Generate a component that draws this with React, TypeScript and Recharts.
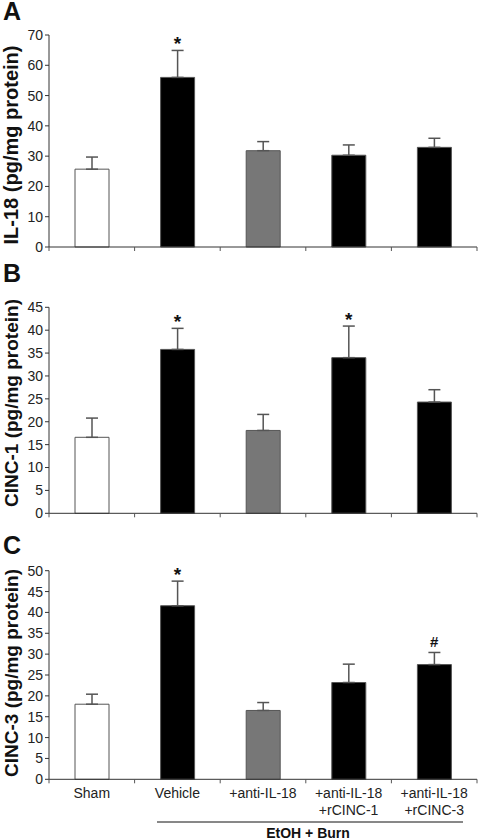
import React from 'react';
import { ComposedChart, Bar, XAxis, YAxis, ErrorBar, Scatter, Cell } from 'recharts';

const categories = ['Sham', 'Vehicle', '+anti-IL-18', '+anti-IL-18\n+rCINC-1', '+anti-IL-18\n+rCINC-3'];
const il18Values = [25.7, 56.0, 31.8, 30.3, 32.9];
const il18Errors = [4.0, 8.9, 3.0, 3.4, 3.0];
const il18Marks = ['', '*', '', '', ''];
const cinc1Values = [16.6, 35.8, 18.1, 34.0, 24.3];
const cinc1Errors = [4.2, 4.6, 3.5, 6.9, 2.7];
const cinc1Marks = ['', '*', '', '*', ''];
const cinc3Values = [18.0, 41.6, 16.5, 23.2, 27.5];
const cinc3Errors = [2.4, 5.9, 1.9, 4.4, 2.9];
const cinc3Marks = ['', '*', '', '', '#'];
const fills = ['#ffffff', '#000000', '#777777', '#000000', '#000000'];
const il18Ticks = [0, 10, 20, 30, 40, 50, 60, 70];
const cinc1Ticks = [0, 5, 10, 15, 20, 25, 30, 35, 40, 45];
const cinc3Ticks = [0, 5, 10, 15, 20, 25, 30, 35, 40, 45, 50];
const groupLabel = 'EtOH + Burn';

const FONT = 'Arial, "Liberation Sans", Helvetica, sans-serif';
const W = 478;
const LEFT = 9;
const YW = 40;
const RIGHT = 1;
const BAND = (W - LEFT - YW - RIGHT) / categories.length;

const build = (vals: number[], errs: number[], marks: string[]) =>
  categories.map((c, i) => ({
    name: c,
    value: vals[i],
    err: [0, errs[i]],
    top: vals[i] + errs[i],
    mark: marks[i],
  }));

const XTick = (props: any) => {
  const { x, y, payload, index, showLabels } = props;
  const lines = String(payload.value).split('\n');
  const left = x - BAND / 2;
  return (
    <g>
      <line x1={left} y1={y - 8} x2={left} y2={y - 4} stroke="#555" strokeWidth={1} />
      {index === categories.length - 1 && (
        <line x1={x + BAND / 2} y1={y - 8} x2={x + BAND / 2} y2={y - 4} stroke="#555" strokeWidth={1} />
      )}
      {showLabels &&
        lines.map((l: string, k: number) => (
          <text key={k} x={x} y={y + 11 + k * 17} textAnchor="middle" fontSize={14} fontFamily={FONT} fill="#222">
            {l}
          </text>
        ))}
    </g>
  );
};

const MarkShape = (props: any) => {
  const { cx, cy, payload } = props;
  if (!payload.mark) return <g />;
  const star = payload.mark === '*';
  return (
    <text
      x={cx}
      y={star ? cy : cy - 5}
      textAnchor="middle"
      fontSize={star ? 19 : 15}
      fontWeight="bold"
      fontFamily={FONT}
      fill="#111"
    >
      {payload.mark}
    </text>
  );
};

type PanelProps = {
  top: number;
  height: number;
  plotTop: number;
  plotBottom: number;
  xHeight: number;
  data: any[];
  ticks: number[];
  showLabels: boolean;
};

const Panel = (p: PanelProps) => {
  const max = p.ticks[p.ticks.length - 1];
  return (
    <div style={{ position: 'absolute', left: 0, top: p.top, width: W, height: p.height }}>
      <ComposedChart
        width={W}
        height={p.height}
        data={p.data}
        margin={{ top: p.plotTop, right: RIGHT, left: LEFT, bottom: p.height - p.plotBottom - p.xHeight }}
      >
        <XAxis
          dataKey="name"
          type="category"
          height={p.xHeight}
          axisLine={{ stroke: '#333', strokeWidth: 1 }}
          tickLine={false}
          interval={0}
          tick={<XTick showLabels={p.showLabels} />}
        />
        <YAxis
          width={YW}
          domain={[0, max]}
          ticks={p.ticks}
          interval={0}
          axisLine={{ stroke: '#333', strokeWidth: 1 }}
          tickLine={{ stroke: '#333', strokeWidth: 1 }}
          tickSize={4}
          tickMargin={2}
          tick={{ fontSize: 14, fontFamily: FONT, fill: '#222' }}
        />
        <Bar dataKey="value" barSize={34} stroke="#555" strokeWidth={1} isAnimationActive={false}>
          {p.data.map((d, i) => (
            <Cell key={i} fill={fills[i]} />
          ))}
          <ErrorBar dataKey="err" width={6} stroke="#555" strokeWidth={1.5} direction="y" />
        </Bar>
        <Scatter dataKey="top" shape={<MarkShape />} isAnimationActive={false} />
      </ComposedChart>
    </div>
  );
};

const letters = [
  { t: 'A', y: 20 },
  { t: 'B', y: 282 },
  { t: 'C', y: 554 },
];
const yLabels = [
  { t: 'IL-18 (pg/mg protein)', c: 145, s: 20 },
  { t: 'CINC-1 (pg/mg protein)', c: 403, s: 19 },
  { t: 'CINC-3 (pg/mg protein)', c: 673, s: 19 },
];

export default function App() {
  return (
    <div style={{ position: 'absolute', left: 0, top: 0, width: W, height: 838, background: '#fff', overflow: 'hidden' }}>
      <Panel
        top={0}
        height={260}
        plotTop={35}
        plotBottom={247}
        xHeight={10}
        data={build(il18Values, il18Errors, il18Marks)}
        ticks={il18Ticks}
        showLabels={false}
      />
      <Panel
        top={260}
        height={270}
        plotTop={47.3}
        plotBottom={253.3}
        xHeight={10}
        data={build(cinc1Values, cinc1Errors, cinc1Marks)}
        ticks={cinc1Ticks}
        showLabels={false}
      />
      <Panel
        top={530}
        height={308}
        plotTop={40.7}
        plotBottom={249.3}
        xHeight={45}
        data={build(cinc3Values, cinc3Errors, cinc3Marks)}
        ticks={cinc3Ticks}
        showLabels={true}
      />
      <svg style={{ position: 'absolute', left: 0, top: 0, pointerEvents: 'none' }} width={W} height={838}>
        {letters.map((l) => (
          <text key={l.t} x={3} y={l.y} fontSize={25} fontWeight="bold" fontFamily={FONT} fill="#111">
            {l.t}
          </text>
        ))}
        {yLabels.map((l) => (
          <text
            key={l.t}
            x={18}
            y={l.c}
            transform={`rotate(-90, 18, ${l.c})`}
            textAnchor="middle"
            fontSize={l.s}
            fontWeight="bold"
            fontFamily={FONT}
            fill="#111"
          >
            {l.t}
          </text>
        ))}
        <line x1={157} y1={822} x2={463} y2={822} stroke="#111" strokeWidth={1} />
        <text x={308} y={838} textAnchor="middle" fontSize={14} fontWeight="bold" fontFamily={FONT} fill="#111">
          {groupLabel}
        </text>
      </svg>
    </div>
  );
}
